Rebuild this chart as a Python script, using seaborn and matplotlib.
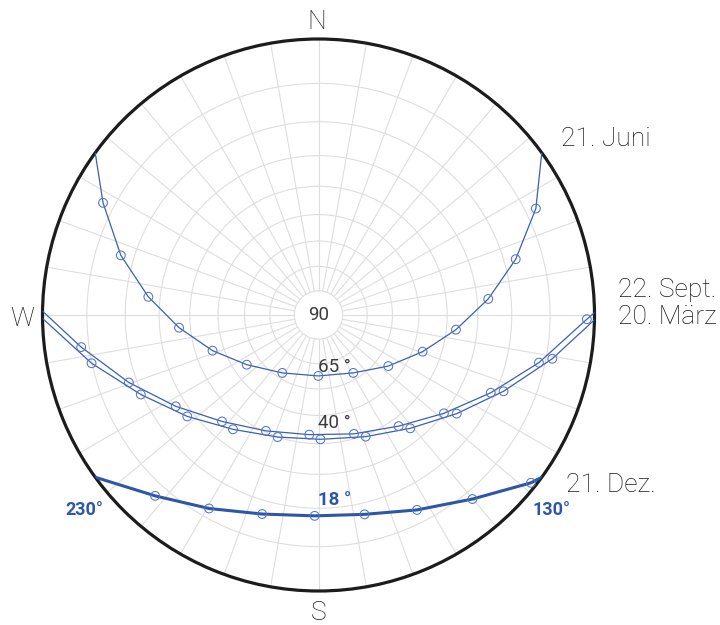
import numpy as np
import pandas as pd
import matplotlib
matplotlib.use("Agg")
import matplotlib.pyplot as plt
import seaborn as sns

sns.set_theme(style="white")
plt.rcParams['font.family'] = ['Roboto', 'DejaVu Sans']

# hourly sun positions: azimuth (deg, from N clockwise), elevation (deg)
june_az = [63.9, 74.2, 84.6, 96.1, 109.4, 126.2, 149.0, 180.2, 212.0, 235.3, 251.4, 264.8, 276.1, 286.8, 297.5]
june_el = [7.5, 16.8, 26.6, 36.8, 46.4, 55.2, 62.5, 65.1, 62.2, 54.9, 45.9, 36.2, 26.4, 16.4, 7.3]
june_horizon = [54.0, 306.0]

sept_az = [90.9, 102.2, 114.3, 128.1, 144.2, 163.4, 184.4, 204.4, 222.2, 237.4, 250.4, 262.3]
sept_el = [1.6, 11.5, 21.2, 30.0, 37.2, 41.6, 43.0, 40.5, 35.0, 26.9, 17.8, 8.1]
sept_horizon = [89.5, 270.8]

march_az = [100.6, 112.4, 125.5, 141.0, 158.8, 179.1, 198.5, 216.8, 232.3, 245.9, 258.0]
march_el = [8.5, 18.1, 26.8, 34.3, 39.4, 41.5, 40.0, 35.3, 28.0, 19.6, 9.9]
march_horizon = [91.0, 269.3]

dec_az = [128.3, 140.1, 153.2, 167.0, 181.1, 195.8, 209.5, 222.1]
dec_el = [1.1, 8.0, 13.3, 16.9, 17.9, 16.3, 12.3, 7.1]
dec_horizon = [126.0, 234.0]

# noon elevation labels and the zenith distance of their baseline
ring_text = ['65 °', '40 °', '18 °']
ring_text_zen = [23.4, 44.4, 69.1]
dir_labels = ['N', 'S', 'W']
date_labels = ['21. Juni', '22. Sept.', '20. März', '21. Dez.']
dec_az_labels = ['230°', '130°']

line_blue = '#3a5fb3'
dark_blue = '#2d57a6'
marker_blue = '#5175cb'
grid_col = '#dedede'
text_col = '#1a1a1a'


def stereo(z):
    return np.tan(np.radians(z) / 2)


def stereo_inv(r):
    return 2 * np.degrees(np.arctan(r))


def path_frame(az, el, horizon):
    theta = np.radians([horizon[0]] + az + [horizon[1]])
    zen = 90 - np.array([0.0] + el + [0.0])
    return pd.DataFrame({'theta': theta, 'zen': zen})


def marker_frame(az, el):
    return pd.DataFrame({'theta': np.radians(az), 'zen': 90 - np.array(el)})


fig = plt.figure(figsize=(7.2, 6.25), dpi=100)
ax = fig.add_axes([42.5 / 720, 34 / 625, 552 / 720, 552 / 625], projection='polar')
ax.set_theta_zero_location('N')
ax.set_theta_direction(-1)
ax.set_rscale('function', functions=(stereo, stereo_inv))

# grid: elevation rings every 10 deg, azimuth rays every 10 deg
ax.grid(False)
ax.set_xticks([])
ax.set_yticks(np.arange(10, 90, 10))
ax.set_yticklabels([])
ax.tick_params(length=0)
ax.yaxis.grid(True, color=grid_col, linewidth=0.8)
ax.vlines(np.radians(np.arange(0, 360, 10)), 10, 90, color=grid_col, linewidth=0.8, zorder=0.5)

curves = [
    (june_az, june_el, june_horizon, line_blue, 0.9),
    (sept_az, sept_el, sept_horizon, line_blue, 0.9),
    (march_az, march_el, march_horizon, line_blue, 0.9),
    (dec_az, dec_el, dec_horizon, dark_blue, 2.2),
]
for az, el, hz, col, lw in curves:
    sns.lineplot(data=path_frame(az, el, hz), x='theta', y='zen', sort=False,
                 color=col, linewidth=lw, ax=ax, zorder=3)
    sns.scatterplot(data=marker_frame(az, el), x='theta', y='zen', marker='o', s=40,
                    facecolor='none', edgecolor=marker_blue, linewidth=0.75, ax=ax, zorder=4)

ax.set_xlabel('')
ax.set_ylabel('')
ax.set_rlim(0, 90)
for name in ['start', 'end', 'inner']:
    ax.spines[name].set_visible(False)
ax.spines['polar'].set_color('#1c1c1c')
ax.spines['polar'].set_linewidth(2.3)
ax.spines['polar'].set_capstyle('butt')

ax.text(0, 0, '90', ha='center', va='center', fontsize=13.5, color='#3c3c3c', zorder=5)
for i, (lab, zen) in enumerate(zip(ring_text, ring_text_zen)):
    bold = i == 2
    ax.text(np.pi, zen, lab, ha='left', va='baseline', fontsize=13.5,
            color=dark_blue if bold else '#3c3c3c',
            fontweight='bold' if bold else 'normal', zorder=5)

big = dict(fontsize=19, color=text_col, fontweight='light')
fig.text(317 / 720, 595.7 / 625, dir_labels[0], ha='center', va='baseline', **big)
fig.text(319 / 720, 5 / 625, dir_labels[1], ha='center', va='baseline', **big)
fig.text(22 / 720, 299 / 625, dir_labels[2], ha='center', va='baseline', **big)
fig.text(561 / 720, 478.7 / 625, date_labels[0], ha='left', va='baseline', **big)
fig.text(618 / 720, 328.3 / 625, date_labels[1], ha='left', va='baseline', **big)
fig.text(618 / 720, 301 / 625, date_labels[2], ha='left', va='baseline', **big)
fig.text(566 / 720, 133.3 / 625, date_labels[3], ha='left', va='baseline', **big)

small_bold = dict(fontsize=13, color=dark_blue, fontweight='bold')
fig.text(84 / 720, 110 / 625, dec_az_labels[0], ha='center', va='baseline', **small_bold)
fig.text(551 / 720, 110 / 625, dec_az_labels[1], ha='center', va='baseline', **small_bold)

fig.savefig('out.png', dpi=100)
